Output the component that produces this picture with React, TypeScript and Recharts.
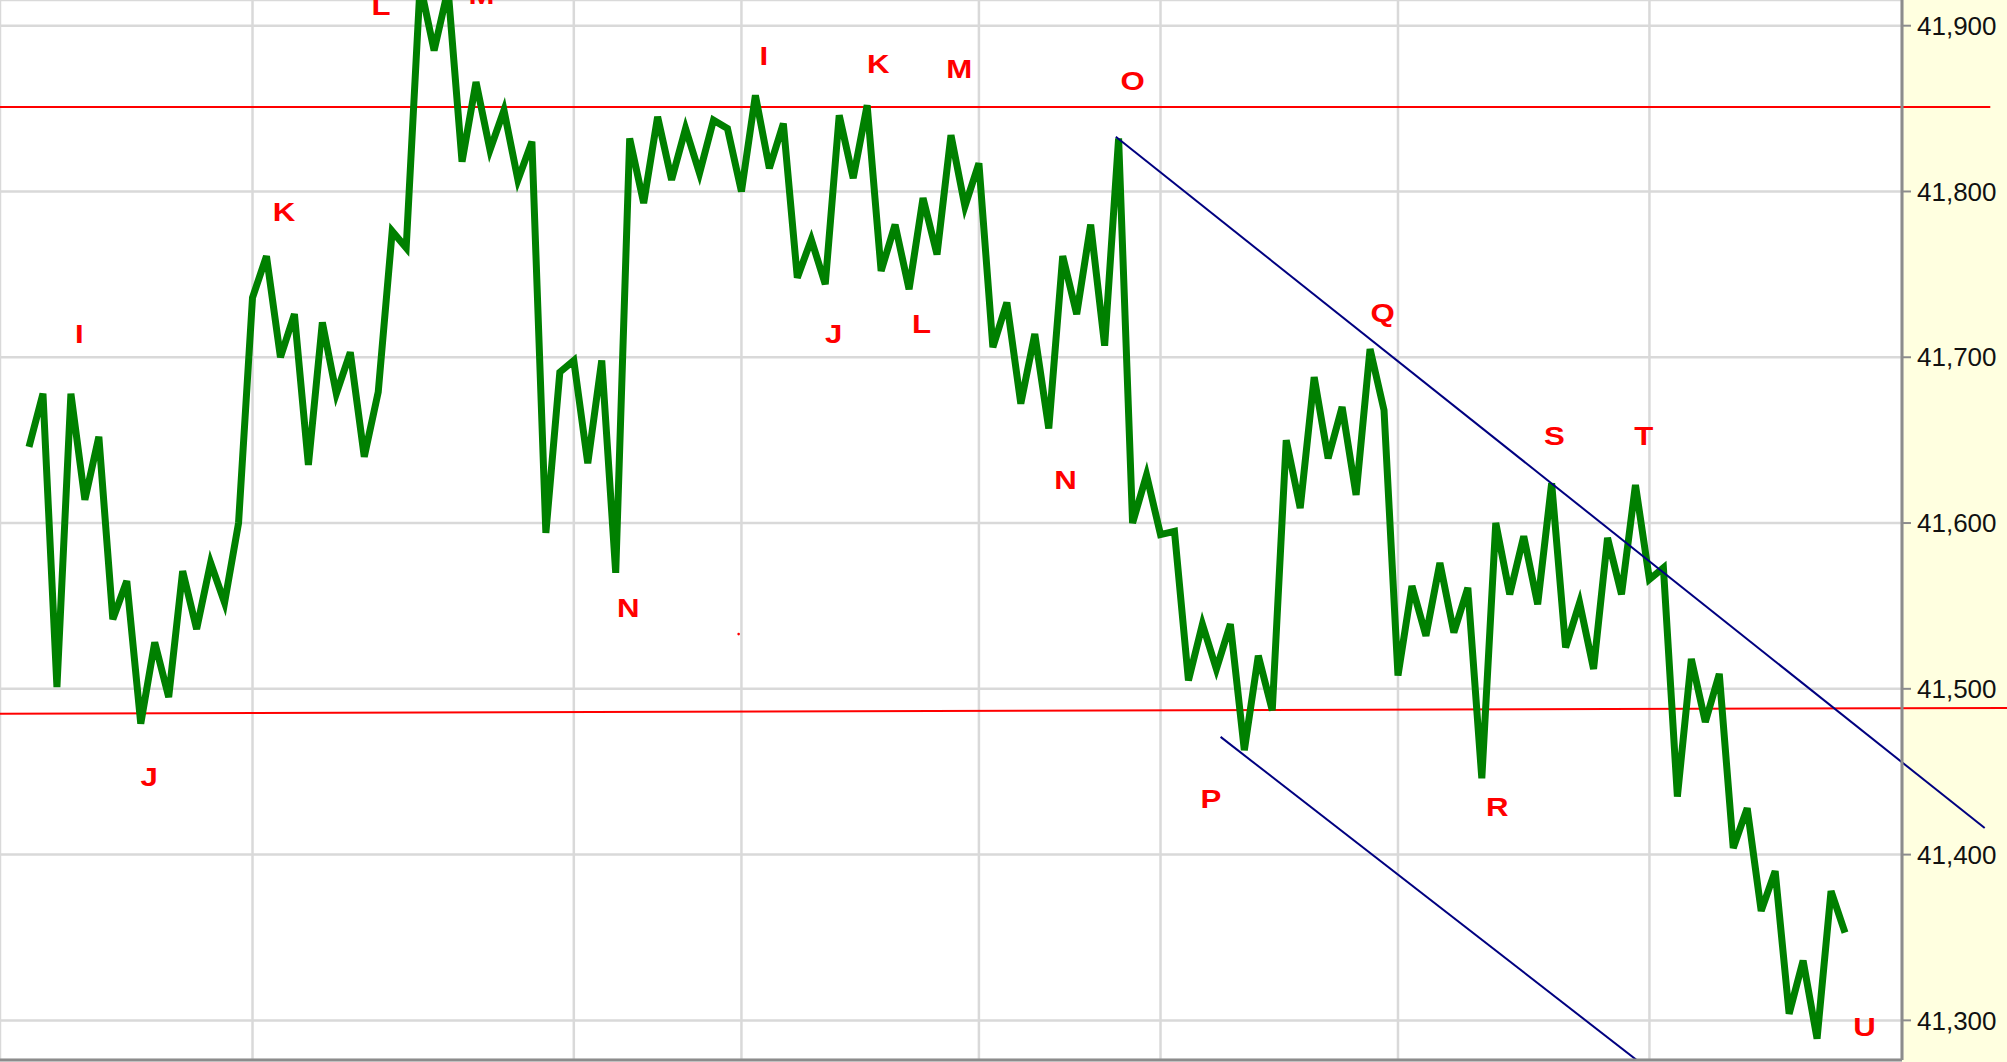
import {
  ComposedChart,
  Line,
  XAxis,
  YAxis,
  CartesianGrid,
  ReferenceLine,
  ReferenceDot,
  Scatter,
} from "recharts";

// closing prices, one per bar
const prices = [
  41646, 41678, 41501, 41678, 41614, 41652, 41542, 41565, 41479, 41528,
  41495, 41571, 41536, 41576, 41552, 41600, 41736, 41761, 41700, 41726,
  41635, 41721, 41678, 41703, 41640, 41679, 41776, 41766, 41925, 41885,
  41922, 41818, 41866, 41825, 41849, 41807, 41830, 41594, 41691, 41698,
  41636, 41698, 41570, 41832, 41793, 41845, 41807, 41838, 41811, 41843,
  41838, 41800, 41858, 41814, 41841, 41748, 41771, 41744, 41846, 41808,
  41852, 41752, 41780, 41741, 41796, 41762, 41834, 41791, 41817, 41706,
  41733, 41672, 41714, 41657, 41761, 41726, 41780, 41707, 41832, 41600,
  41629, 41593, 41595, 41505, 41539, 41512, 41539, 41463, 41520, 41487,
  41650, 41609, 41688, 41639, 41670, 41617, 41705, 41668, 41508, 41562,
  41532, 41576, 41534, 41561, 41446, 41600, 41557, 41592, 41551, 41624,
  41525, 41552, 41512, 41591, 41557, 41623, 41566, 41573, 41435, 41518,
  41480, 41509, 41404, 41428, 41366, 41390, 41304, 41336, 41289, 41378,
  41353,
];

// session boundaries (bar index)
const dayTicks = [16, 39, 51, 68, 81, 98, 116];
const priceTicks = [41300, 41400, 41500, 41600, 41700, 41800, 41900];

// wave labels
const waveLetters = ["I", "J", "K", "L", "M", "N", "I", "J", "K", "L", "M", "N", "O", "P", "Q", "R", "S", "T", "U"];
const waveIdx = [3.6, 8.6, 18.25, 25.2, 32.4, 42.9, 52.6, 57.6, 60.8, 63.9, 66.6, 74.2, 79.0, 84.6, 96.9, 105.1, 109.2, 115.6, 131.4];
const waveVal = [41714, 41447, 41788, 41912, 41919, 41549, 41882, 41714, 41877, 41720, 41874, 41626, 41867, 41434, 41727, 41429, 41653, 41653, 41296];

// horizontal levels
const resistance = [41851, 41851];
const support = [41485, 41488.5];

// channel lines
const upperTrendX = [77.8, 140.0];
const upperTrendY = [41833, 41416];
const lowerTrendX = [85.3, 118];
const lowerTrendY = [41471, 41257];

const data = prices.map((v, i) => ({ i, v }));
const labels = waveLetters.map((t, k) => ({ i: waveIdx[k], v: waveVal[k], t }));

const X_DOMAIN: [number, number] = [-2.076, 134.08];
const Y_DOMAIN: [number, number] = [41276.1, 41915.5];

const fmt = (n: number) => n.toLocaleString("en-US");

const NoTick = () => <g />;

const Letter = (props: any) => (
  <text
    x={0}
    y={0}
    dy="0.36em"
    transform={`translate(${props.cx},${props.cy}) scale(1.2,1)`}
    textAnchor="middle"
    fill="#ff0000"
    fontSize={26}
    fontWeight="bold"
    fontFamily="Liberation Sans, Arial, sans-serif"
  >
    {props.payload.t}
  </text>
);

export default function App() {
  return (
    <div
      style={{
        position: "absolute",
        left: 0,
        top: 0,
        width: 2007,
        height: 1062,
        background: "linear-gradient(to right, #ffffff 1902px, #ffffe0 1902px)",
      }}
    >
      <ComposedChart
        width={2007}
        height={1062}
        data={data}
        margin={{ top: 0, right: 0, bottom: 0, left: 0 }}
      >
        <CartesianGrid stroke="#d9d9d9" strokeWidth={2.5} />
        <XAxis
          dataKey="i"
          type="number"
          domain={X_DOMAIN}
          allowDataOverflow
          ticks={dayTicks}
          interval={0}
          tick={NoTick}
          tickLine={false}
          height={2}
          axisLine={{ stroke: "#8c8c8c", strokeWidth: 3 }}
        />
        <YAxis
          orientation="right"
          type="number"
          domain={Y_DOMAIN}
          allowDataOverflow
          ticks={priceTicks}
          interval={0}
          tickFormatter={fmt}
          width={105}
          tickSize={9}
          tickMargin={6}
          axisLine={{ stroke: "#8c8c8c", strokeWidth: 3 }}
          tickLine={{ stroke: "#8c8c8c", strokeWidth: 2 }}
          tick={{ fill: "#111", fontSize: 26, fontFamily: "Liberation Sans, Arial, sans-serif" }}
        />
        <ReferenceLine
          segment={[
            { x: X_DOMAIN[0], y: resistance[0] },
            { x: 140.4, y: resistance[1] },
          ]}
          stroke="#ff0000"
          strokeWidth={2}
          ifOverflow="visible"
        />
        <ReferenceLine
          segment={[
            { x: X_DOMAIN[0], y: support[0] },
            { x: 141.7, y: support[1] },
          ]}
          stroke="#ff0000"
          strokeWidth={2}
          ifOverflow="visible"
        />
        <Line
          type="linear"
          dataKey="v"
          stroke="#008000"
          strokeWidth={7}
          dot={false}
          activeDot={false}
          isAnimationActive={false}
        />
        <ReferenceLine
          segment={[
            { x: upperTrendX[0], y: upperTrendY[0] },
            { x: upperTrendX[1], y: upperTrendY[1] },
          ]}
          stroke="#000080"
          strokeWidth={2}
          ifOverflow="visible"
        />
        <ReferenceLine
          segment={[
            { x: lowerTrendX[0], y: lowerTrendY[0] },
            { x: lowerTrendX[1], y: lowerTrendY[1] },
          ]}
          stroke="#000080"
          strokeWidth={2}
          ifOverflow="hidden"
        />
        <ReferenceDot x={50.8} y={41533} r={1.3} fill="#ff0000" stroke="none" />
        <Scatter data={labels} dataKey="v" shape={Letter} isAnimationActive={false} />
      </ComposedChart>
    </div>
  );
}
